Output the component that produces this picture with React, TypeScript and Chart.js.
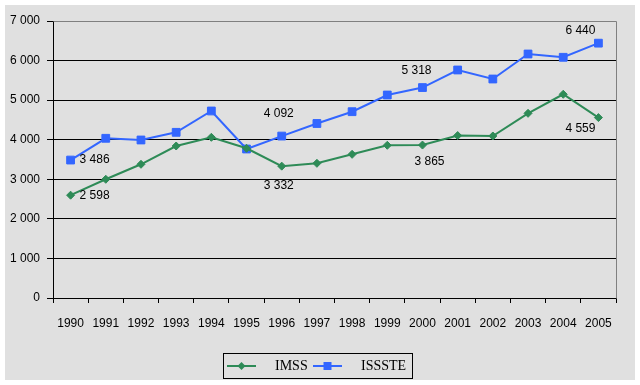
import React, { useEffect, useRef } from "react";
import { Chart, registerables } from "chart.js";

Chart.register(...registerables);

const years = ["1990","1991","1992","1993","1994","1995","1996","1997","1998","1999","2000","2001","2002","2003","2004","2005"];
const imss = [2598, 3000, 3379, 3841, 4061, 3783, 3332, 3404, 3631, 3859, 3865, 4105, 4094, 4667, 5148, 4559];
const issste = [3486, 4036, 3993, 4187, 4726, 3765, 4092, 4410, 4708, 5130, 5318, 5762, 5534, 6166, 6083, 6440];
const labelledIndex = [0, 6, 10, 15];

const GREEN = "#2e8b57";
const BLUE = "#3366ff";
const FONT = "'Liberation Sans', Arial, sans-serif";

// label placement relative to the point (style only)
const labelOffsets: Record<string, { dx: number; dy: number; align: CanvasTextAlign }[]> = {
  ISSSTE: [
    { dx: 9, dy: 0, align: "left" },
    { dx: -3, dy: -22, align: "center" },
    { dx: -6, dy: -17, align: "center" },
    { dx: -18, dy: -12, align: "center" },
  ],
  IMSS: [
    { dx: 9, dy: 0, align: "left" },
    { dx: -3, dy: 20, align: "center" },
    { dx: 7, dy: 17, align: "center" },
    { dx: -18, dy: 11, align: "center" },
  ],
};

const fmt = (v: number) => {
  const s = Math.round(v).toString();
  return s.replace(/\B(?=(\d{3})+(?!\d))/g, " ");
};

const bgPlugin = {
  id: "bgPlugin",
  beforeDraw(chart: any) {
    const ctx = chart.ctx;
    ctx.save();
    ctx.fillStyle = "#ffffff";
    ctx.fillRect(0, 0, chart.width, chart.height);
    ctx.fillStyle = "#e0e0e0";
    ctx.fillRect(5, 5, 630, 375);
    ctx.restore();
  },
  afterDatasetsDraw(chart: any) {
    const ctx = chart.ctx;
    const a = chart.chartArea;
    ctx.save();
    // plot border (top/right) in gray
    ctx.strokeStyle = "#808080";
    ctx.lineWidth = 1;
    ctx.beginPath();
    ctx.moveTo(Math.round(a.left) + 0.5, Math.round(a.top) + 0.5);
    ctx.lineTo(Math.round(a.right) + 0.5, Math.round(a.top) + 0.5);
    ctx.lineTo(Math.round(a.right) + 0.5, Math.round(a.bottom) + 0.5);
    ctx.stroke();

    // data labels
    ctx.fillStyle = "#000";
    ctx.font = `12px ${FONT}`;
    ctx.textBaseline = "middle";
    chart.data.datasets.forEach((ds: any, di: number) => {
      const meta = chart.getDatasetMeta(di);
      const offs = labelOffsets[ds.label];
      labelledIndex.forEach((idx, k) => {
        const pt = meta.data[idx];
        const o = offs[k];
        ctx.textAlign = o.align;
        ctx.fillText(fmt(ds.data[idx]), pt.x + o.dx, pt.y + o.dy);
      });
    });

    // legend
    const lx = 223, ly = 353, lw = 189, lh = 25;
    ctx.strokeStyle = "#000";
    ctx.lineWidth = 1;
    ctx.strokeRect(lx + 0.5, ly + 0.5, lw, lh);
    const cy = ly + 13;
    const items = [
      { x0: 227, x1: 256, tx: 275 },
      { x0: 313, x1: 342, tx: 361 },
    ];
    chart.data.datasets.forEach((ds: any, di: number) => {
      const it = items[di];
      ctx.strokeStyle = ds.borderColor;
      ctx.lineWidth = 2;
      ctx.beginPath();
      ctx.moveTo(it.x0, cy);
      ctx.lineTo(it.x1, cy);
      ctx.stroke();
      ctx.fillStyle = ds.pointBackgroundColor;
      const mx = (it.x0 + it.x1) / 2;
      if (ds.pointStyle === "rect") {
        ctx.fillRect(mx - 4, cy - 4, 8, 8);
      } else {
        const r = ds.pointRadius;
        ctx.beginPath();
        ctx.moveTo(mx - r, cy);
        ctx.lineTo(mx, cy - r);
        ctx.lineTo(mx + r, cy);
        ctx.lineTo(mx, cy + r);
        ctx.closePath();
        ctx.fill();
      }
      ctx.fillStyle = "#000";
      ctx.font = `14px 'Liberation Serif', 'Times New Roman', serif`;
      ctx.textAlign = "left";
      ctx.textBaseline = "middle";
      ctx.fillText(ds.label, it.tx, cy);
    });
    ctx.restore();
  },
};

export default function App() {
  const ref = useRef<HTMLCanvasElement | null>(null);

  useEffect(() => {
    document.body.style.margin = "0";
    const canvas = ref.current;
    if (!canvas) return;
    const chart = new Chart(canvas, {
      type: "line",
      data: {
        labels: years,
        datasets: [
          {
            label: "IMSS",
            data: imss,
            borderColor: GREEN,
            backgroundColor: GREEN,
            pointBackgroundColor: GREEN,
            pointBorderColor: GREEN,
            pointStyle: "rectRot",
            pointRadius: 4,
            pointBorderWidth: 1,
            borderWidth: 2,
            tension: 0,
          },
          {
            label: "ISSSTE",
            data: issste,
            borderColor: BLUE,
            backgroundColor: BLUE,
            pointBackgroundColor: BLUE,
            pointBorderColor: BLUE,
            pointStyle: "rect",
            pointRadius: 5.5,
            pointBorderWidth: 1,
            borderWidth: 2,
            tension: 0,
          },
        ],
      },
      options: {
        responsive: false,
        animation: false,
        devicePixelRatio: 1,
        layout: { padding: { left: 5, right: 24, top: 21, bottom: 47 } },
        plugins: {
          legend: { display: false },
          tooltip: { enabled: false },
        },
        scales: {
          x: {
            offset: true,
            grid: {
              offset: true,
              drawOnChartArea: false,
              drawTicks: true,
              tickLength: 5,
              color: "#000",
            },
            border: { display: true, color: "#000", width: 1 },
            ticks: {
              color: "#000",
              font: { family: FONT, size: 12 },
              padding: 13,
              maxRotation: 0,
              autoSkip: false,
            },
            afterFit: (s: any) => {
              s.height = 40;
            },
          },
          y: {
            min: 0,
            max: 7000,
            grid: {
              color: (c: any) => (c.tick && c.tick.value === 7000 ? "#808080" : "#000"),
              tickColor: "#000",
              tickLength: 6,
              drawTicks: true,
            },
            border: { display: true, color: "#000", width: 1 },
            ticks: {
              stepSize: 1000,
              color: "#000",
              font: { family: FONT, size: 12 },
              padding: 7,
              callback: (v: any) => fmt(Number(v)),
            },
            afterFit: (s: any) => {
              s.width = 48;
            },
          },
        },
      },
      plugins: [bgPlugin],
    });
    return () => chart.destroy();
  }, []);

  return (
    <div style={{ width: 640, height: 385 }}>
      <canvas ref={ref} width={640} height={385} style={{ display: "block" }} />
    </div>
  );
}
